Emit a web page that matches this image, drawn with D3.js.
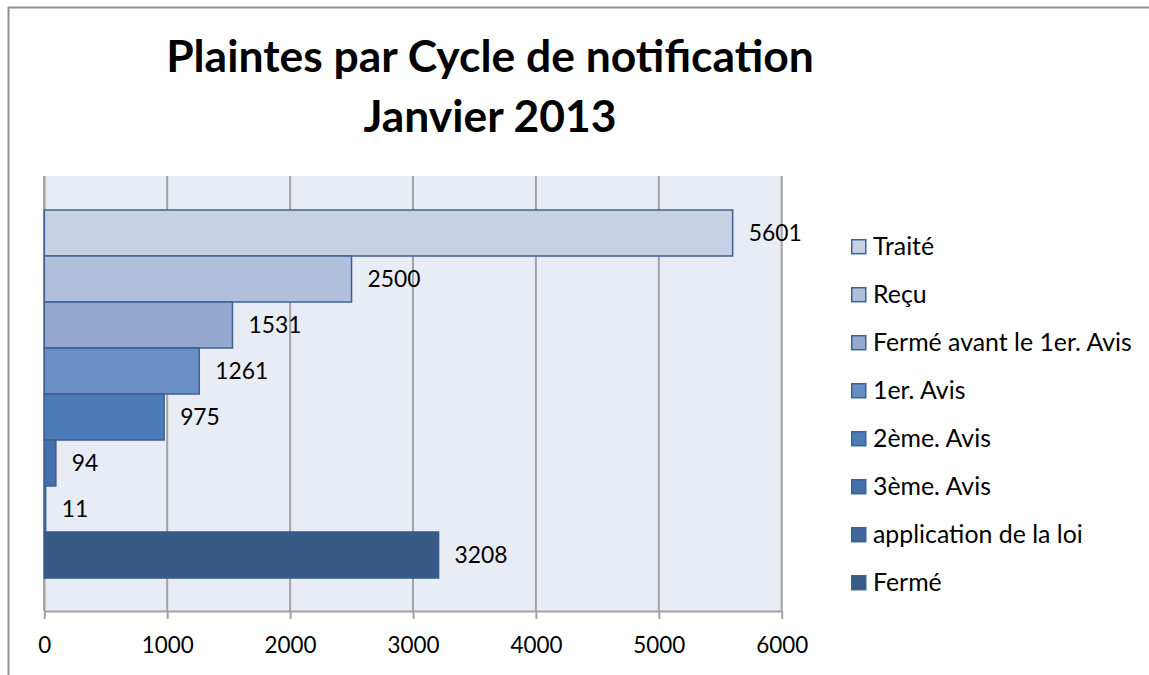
<!DOCTYPE html>
<html>
<head>
<meta charset="utf-8">
<script src="https://cdn.jsdelivr.net/npm/d3@7"></script>
<style>
html,body{margin:0;padding:0;background:#fff;}
svg{display:block;}
text{font-family:Lato,"Open Sans",sans-serif;fill:#000;}
</style>
</head>
<body>
<svg id="chart" width="1149" height="675"></svg>
<script>
// ---- data ----
const titleLines = ["Plaintes par Cycle de notification", "Janvier 2013"];
const series = ["Traité", "Reçu", "Fermé avant le 1er. Avis", "1er. Avis", "2ème. Avis", "3ème. Avis", "application de la loi", "Fermé"];
const values = [5601, 2500, 1531, 1261, 975, 94, 11, 3208];
const xTicks = [0, 1000, 2000, 3000, 4000, 5000, 6000];
const xDomain = [0, 6000];
// ---- styles ----
const fills = ["#C8D0E3", "#B0BFDA", "#95A9D0", "#6A8FC4", "#4A7BB6", "#4571AA", "#41679E", "#375A87"];
const strokeCol = "#3C6194";

const W = 1149, H = 675;
const plot = {left: 44.3, right: 781.7, top: 176, bottom: 611};
const svg = d3.select("#chart");

// outer chart border (only top/left visible in crop)
svg.append("line").attr("x1", 8).attr("x2", W).attr("y1", 7.5).attr("y2", 7.5).attr("stroke", "#8f8f8f").attr("stroke-width", 2);
svg.append("line").attr("x1", 8.5).attr("x2", 8.5).attr("y1", 7).attr("y2", H).attr("stroke", "#8f8f8f").attr("stroke-width", 2);

const x = d3.scaleLinear().domain(xDomain).range([plot.left, plot.right]);
const y = d3.scaleBand().domain(series).range([210, 578]).padding(0);

// plot background
svg.append("rect").attr("x", plot.left).attr("y", plot.top)
  .attr("width", plot.right - plot.left).attr("height", plot.bottom - plot.top)
  .attr("fill", "#E8ECF4");

// gridlines
svg.append("g").selectAll("line").data(xTicks).join("line")
  .attr("x1", d => x(d)).attr("x2", d => x(d))
  .attr("y1", plot.top).attr("y2", plot.bottom)
  .attr("stroke", "#A3A3A3").attr("stroke-width", 2);

// x axis
const axis = d3.axisBottom(x).tickValues(xTicks).tickSize(8).tickSizeOuter(0).tickFormat(d3.format("d"));
const gAxis = svg.append("g").attr("transform", `translate(0,${plot.bottom})`).call(axis);
gAxis.select(".domain").attr("stroke", "#A3A3A3").attr("stroke-width", 2);
gAxis.selectAll(".tick line").attr("stroke", "#A3A3A3").attr("stroke-width", 2);
gAxis.selectAll(".tick text").attr("fill", "#000").attr("font-family", "Lato").attr("y", 34).attr("dy", "0.35em");

// helper: fit font-size so that a sample string has a target width
function fitSize(sample, target, weight) {
  const t = svg.append("text").attr("font-family", "Lato").attr("font-size", 100).attr("font-weight", weight || "normal").text(sample);
  const w = t.node().getComputedTextLength();
  t.remove();
  return 100 * target / w;
}
const tickSize = fitSize("1000", 52);
gAxis.selectAll(".tick text").attr("font-size", tickSize);

// vertical axis line at 0
svg.append("line").attr("x1", x(0)).attr("x2", x(0)).attr("y1", plot.top).attr("y2", plot.bottom)
  .attr("stroke", "#A3A3A3").attr("stroke-width", 2);

// bars
svg.append("g").selectAll("rect").data(series).join("rect")
  .attr("x", x(0))
  .attr("y", d => y(d))
  .attr("width", (d, i) => x(values[i]) - x(0))
  .attr("height", y.bandwidth())
  .attr("fill", (d, i) => fills[i])
  .attr("stroke", (d, i) => i === series.length - 1 ? fills[i] : strokeCol)
  .attr("stroke-width", 1.5);

// value labels
const labelSize = fitSize("5601", 53);
svg.append("g").selectAll("text").data(series).join("text")
  .attr("x", (d, i) => x(values[i]) + 16)
  .attr("y", d => y(d) + y.bandwidth() / 2)
  .attr("dy", "0.35em")
  .attr("font-size", labelSize)
  .text((d, i) => values[i]);

// title
const titleSize = fitSize(titleLines[0], 648, "bold");
svg.append("g").selectAll("text").data(titleLines).join("text")
  .attr("x", 490)
  .attr("y", (d, i) => 72 + i * 60)
  .attr("text-anchor", "middle")
  .attr("font-weight", "bold")
  .attr("font-size", titleSize)
  .text(d => d);

// legend
const legSize = fitSize("Fermé avant le 1er. Avis", 259);
const leg = svg.append("g").selectAll("g").data(series).join("g")
  .attr("transform", (d, i) => `translate(851,${246.7 + i * 48})`);
leg.append("rect").attr("x", 0.75).attr("y", -7).attr("width", 14).attr("height", 14)
  .attr("fill", (d, i) => fills[i]).attr("stroke", strokeCol).attr("stroke-width", 1.5);
leg.append("text").attr("x", 22).attr("y", 0).attr("dy", "0.35em")
  .attr("font-size", legSize).text(d => d);
</script>
</body>
</html>
